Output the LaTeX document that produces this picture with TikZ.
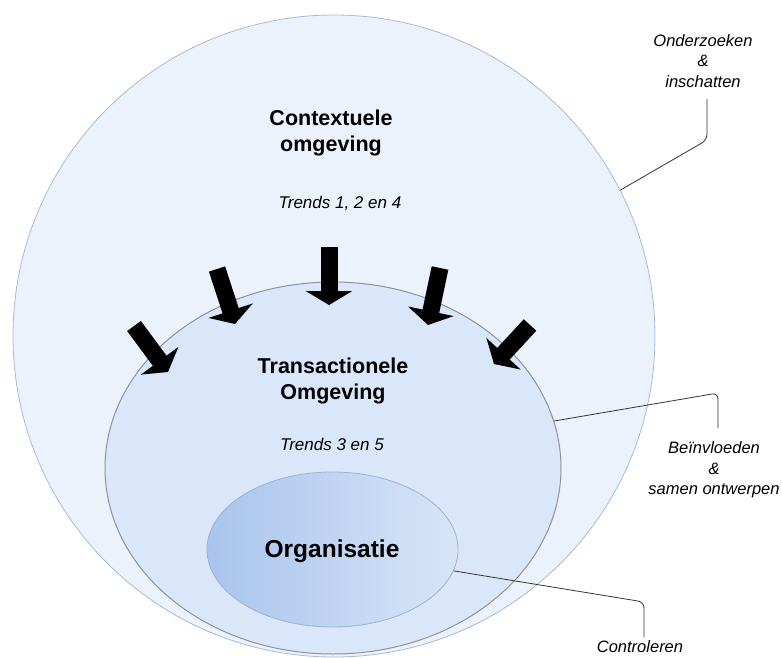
\documentclass[tikz,border=0pt]{standalone}
\usepackage{fontspec}
\setmainfont{Liberation Sans}
\usetikzlibrary{arrows.meta,shapes.geometric,calc}
\definecolor{ctxfill}{HTML}{EBF2FC}
\definecolor{ctxline}{HTML}{A8BBD6}
\definecolor{trfill}{HTML}{DAE7FA}
\definecolor{trline}{HTML}{8E9399}
\definecolor{orgleft}{HTML}{A9C4EC}
\definecolor{orgright}{HTML}{D8E5F8}
\definecolor{orgline}{HTML}{9DB2D0}
\begin{document}
\begin{tikzpicture}[x=1pt,y=-1pt,
        kop/.style={font=\fontsize{21.5}{26}\selectfont\bfseries, align=center},
        trend/.style={font=\fontsize{17}{20}\selectfont\itshape},
        zijlabel/.style={font=\fontsize{16.5}{20.5}\selectfont\itshape, align=center},
        link/.style={draw=black!80, line width=0.8pt, rounded corners=6pt},
        druk/.style={line width=17pt, -{Triangle[width=46pt,length=14pt]}}]
        \clip (0,0) rectangle (782,657);
        % rings
        \node[circle, draw=ctxline, fill=ctxfill, minimum size=642pt, inner sep=0pt, line width=0.8pt] (context) at (334,336) {};
        \node[ellipse, draw=trline, fill=trfill, minimum width=456pt, minimum height=372pt, inner sep=0pt, line width=1pt] (transactie) at (333,468) {};
        \node[ellipse, draw=orgline, left color=orgleft, right color=orgright, minimum width=251pt, minimum height=155pt, inner sep=0pt, line width=0.8pt] (organisatie) at (332.5,549.5) {};
        % titles
        \node[kop] (ctxtitel) at (331,133) {Contextuele\\omgeving};
        \node[trend] (trend124) at (340,203) {Trends 1, 2 en 4};
        \node[kop] (trtitel) at (333,381) {Transactionele\\Omgeving};
        \node[trend] (trend35) at (332,444) {Trends 3 en 5};
        \node[font=\fontsize{24.5}{29}\selectfont\bfseries] (orgtitel) at (332,551) {Organisatie};
        % pressure of the trends
        \foreach \sx/\sy/\ex/\ey in {134/326/168/372, 217/269/235/324, 329/247/329/305, 440/268/428/325, 530/325/494/364}
            \draw[druk] (\sx,\sy) -- (\ex,\ey);
        % side labels
        \node[zijlabel] (onderzoek) at (703,61) {Onderzoeken\\\&\\inschatten};
        \node[zijlabel] (beinvloed) at (714,470) {Beïnvloeden\\\&\\samen ontwerpen};
        \node[zijlabel] (controle) at (640,647) {Controleren};
        \coordinate (hoekA) at (707,140);
        \coordinate (hoekB) at (718,393);
        \coordinate (hoekC) at (644,602);
        \draw[link] (context.27) -- (hoekA) -- ($(hoekA |- onderzoek.south)+(0,8)$);
        \draw[link] (transactie.12) -- (hoekB) -- ($(hoekB |- beinvloed.north)+(0,-10)$);
        \draw[link] (organisatie.-10) -- (hoekC) -- (hoekC |- controle.north);
    \end{tikzpicture}
\end{document}
